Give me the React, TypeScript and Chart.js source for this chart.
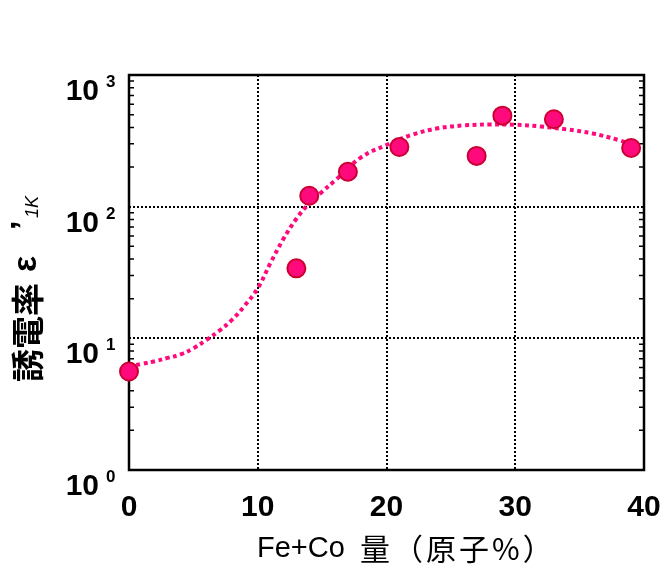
import React, { useEffect, useRef } from 'react';
import Chart from 'chart.js/auto';

// Measured points
const POINT_X = [0, 13, 14, 17, 21, 27, 29, 33, 39];
const POINT_Y = [5.6, 34, 121, 184, 284, 243, 491, 461, 279];

// Dotted fit curve
const CURVE_X = [0, 1, 2, 3, 4, 5, 6, 7, 8, 9, 10, 11, 12, 13, 14, 15, 16, 18, 20, 22, 24, 26, 28, 30, 32, 34, 36, 38, 39];
const CURVE_Y = [6.1, 6.4, 6.7, 7.1, 7.55, 8.4, 9.7, 11.4, 13.8, 17.8, 24.0, 37.5, 57, 81, 106, 130, 158, 236, 294, 352, 394, 414, 421, 419, 406, 386, 360, 321, 298];

const X_MIN = 0;
const X_MAX = 40;
const X_STEP = 10;
const X_GRID = [10, 20, 30];
const Y_MIN = 1;
const Y_MAX = 1000;
const Y_GRID = [10, 100];
const Y_DECADES = [1, 10, 100, 1000];
const Y_EXPONENTS = ['0', '1', '2', '3'];

const X_TITLE_LATIN = 'Fe+Co';
const X_TITLE_CJK = '量（原子%）';
const Y_TITLE_MAIN = '誘電率';
const Y_TITLE_EPS = 'ε';
const Y_TITLE_PRIME = '’';
const Y_TITLE_SUB = '1K';

const PINK = '#ff0a7c';
const PINK_BORDER = '#cc0030';
const LATIN = '"Liberation Sans", Arial, sans-serif';
const CJK = '"Noto Sans CJK JP", "Liberation Sans", sans-serif';

const decorPlugin = {
  id: 'decor',
  beforeDatasetsDraw(chart: any) {
    const { ctx, chartArea: a, scales } = chart;
    const y = scales.y;
    ctx.save();
    ctx.strokeStyle = '#000';
    ctx.lineWidth = 1.5;
    ctx.setLineDash([]);
    for (let d = 1; d < Y_MAX; d *= 10) {
      for (let m = 2; m <= 9; m++) {
        const py = y.getPixelForValue(d * m);
        ctx.beginPath();
        ctx.moveTo(a.left, py);
        ctx.lineTo(a.left + 5, py);
        ctx.moveTo(a.right, py);
        ctx.lineTo(a.right - 5, py);
        ctx.stroke();
      }
    }
    ctx.lineWidth = 2.5;
    ctx.strokeRect(a.left, a.top, a.right - a.left, a.bottom - a.top);
    ctx.restore();
  },
  afterDraw(chart: any) {
    const { ctx, scales } = chart;
    const y = scales.y;
    ctx.save();
    ctx.fillStyle = '#000';
    // y tick labels 10^n
    Y_DECADES.forEach((v, i) => {
      const py = y.getPixelForValue(v);
      ctx.font = `bold 30px ${LATIN}`;
      ctx.textAlign = 'right';
      ctx.textBaseline = 'alphabetic';
      ctx.fillText('10', 99, py + 25);
      ctx.font = `bold 17px ${LATIN}`;
      ctx.textAlign = 'left';
      ctx.fillText(Y_EXPONENTS[i], 106, py + 12);
    });
    // x title
    ctx.textAlign = 'left';
    ctx.textBaseline = 'alphabetic';
    ctx.font = `29px ${LATIN}`;
    ctx.fillText(X_TITLE_LATIN, 257, 557);
    ctx.font = `30px ${CJK}`;
    (ctx as any).letterSpacing = '3px';
    ctx.fillText(X_TITLE_CJK, 360, 560);
    (ctx as any).letterSpacing = '0px';
    // y title (rotated)
    ctx.translate(40, 382);
    ctx.rotate(-Math.PI / 2);
    ctx.font = `bold 33px ${CJK}`;
    ctx.fillText(Y_TITLE_MAIN, 0, 0);
    ctx.font = `bold 34px ${LATIN}`;
    ctx.fillText(Y_TITLE_EPS, 110, -4);
    ctx.fillText(Y_TITLE_PRIME, 152, -6);
    ctx.font = `italic 18px ${LATIN}`;
    ctx.fillText(Y_TITLE_SUB, 164, -2);
    ctx.restore();
  },
};

export default function App() {
  const ref = useRef<HTMLCanvasElement | null>(null);
  useEffect(() => {
    if (!ref.current) return;
    const chart = new Chart(ref.current, {
      type: 'scatter',
      data: {
        datasets: [
          {
            type: 'scatter',
            data: POINT_X.map((x, i) => ({ x, y: POINT_Y[i] })),
            pointRadius: 9,
            pointBackgroundColor: PINK,
            pointBorderColor: PINK_BORDER,
            pointBorderWidth: 2,
            order: 0,
            clip: false,
          } as any,
          {
            type: 'line',
            data: CURVE_X.map((x, i) => ({ x, y: CURVE_Y[i] })),
            showLine: true,
            pointRadius: 0,
            borderColor: PINK,
            borderWidth: 4,
            borderDash: [4, 3.5],
            tension: 0.4,
            fill: false,
            order: 1,
            clip: false,
          } as any,
        ],
      },
      options: {
        responsive: false,
        animation: false,
        events: [],
        layout: { padding: { top: 75, right: 18, left: 0, bottom: 0 } },
        plugins: { legend: { display: false }, tooltip: { enabled: false } },
        scales: {
          x: {
            type: 'linear',
            min: X_MIN,
            max: X_MAX,
            ticks: {
              stepSize: X_STEP,
              font: { family: LATIN, size: 30, weight: 'bold' },
              color: '#000',
              padding: 20,
              maxRotation: 0,
              autoSkip: false,
            },
            grid: {
              drawTicks: false,
              lineWidth: 2,
              color: (c: any) => (X_GRID.includes(c.tick?.value) ? '#000' : 'rgba(0,0,0,0)'),
            },
            border: { display: false, dash: [2, 2] },
            afterFit: (s: any) => {
              s.height = 100;
              s.paddingLeft = 0;
              s.paddingRight = 0;
            },
          },
          y: {
            type: 'logarithmic',
            min: Y_MIN,
            max: Y_MAX,
            ticks: { display: false },
            grid: {
              drawTicks: false,
              lineWidth: 2,
              color: (c: any) => (Y_GRID.includes(c.tick?.value) ? '#000' : 'rgba(0,0,0,0)'),
            },
            border: { display: false, dash: [2, 2] },
            afterFit: (s: any) => {
              s.width = 129;
              s.paddingTop = 0;
              s.paddingBottom = 0;
            },
          },
        },
      } as any,
      plugins: [decorPlugin],
    });
    return () => chart.destroy();
  }, []);
  return (
    <div style={{ position: 'absolute', left: 0, top: 0, width: 662, height: 570, background: '#fff' }}>
      <canvas ref={ref} width={662} height={570} style={{ display: 'block' }} />
    </div>
  );
}
